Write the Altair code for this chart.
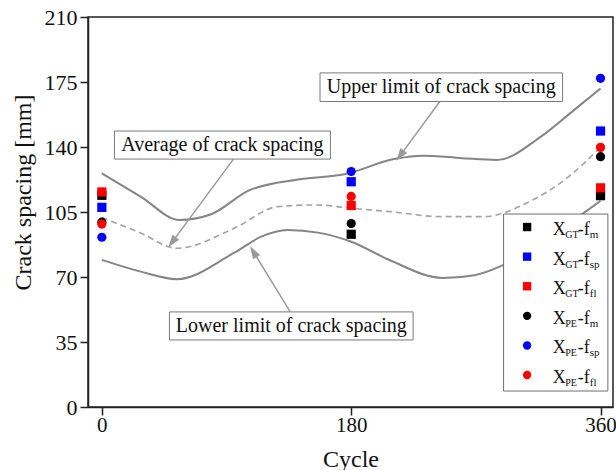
import math
import altair as alt
import pandas as pd

# ---------------- data ----------------
cycles = [0, 180, 360]
series_names = ["XGT-fm", "XGT-fsp", "XGT-fl", "XPE-fm", "XPE-fsp", "XPE-fl"]
gt_fm = [114.0, 93.0, 113.8]
gt_fsp = [107.5, 121.3, 148.6]
gt_fl = [115.8, 108.5, 118.0]
pe_fm = [99.5, 98.8, 134.8]
pe_fsp = [91.4, 126.8, 177.0]
pe_fl = [98.5, 113.4, 139.8]
series_values = [gt_fm, gt_fsp, gt_fl, pe_fm, pe_fsp, pe_fl]
series_colors = ["#000000", "#0000ff", "#ff0000", "#000000", "#0000ff", "#ff0000"]
series_shapes = ["square", "square", "square", "circle", "circle", "circle"]
legend_sub1 = ["GT", "GT", "GT", "PE", "PE", "PE"]
legend_sub2 = ["m", "sp", "fl", "m", "sp", "fl"]

upper_cycle = [0, 28, 56, 78, 107, 143, 175, 211, 232, 260, 285, 317, 341, 360]
upper_val = [125.8, 113.3, 100.7, 103.5, 116.9, 122.6, 125.3, 133.5, 135.3, 134.0, 133.0, 145.6, 160.0, 171.5]
average_cycle = [0, 28, 54, 96, 127, 155, 180, 208, 245, 276, 307, 337, 360]
average_val = [102.0, 93.7, 85.5, 96.4, 107.9, 108.8, 107.0, 105.2, 102.5, 102.5, 110.0, 124.0, 140.0]
lower_cycle = [0, 28, 54, 95, 115, 134, 156, 180, 208, 246, 269, 290, 320, 348, 360]
lower_val = [79.2, 72.9, 68.8, 82.8, 91.7, 95.3, 93.9, 89.0, 79.0, 69.5, 71.0, 76.5, 90.0, 104.5, 111.0]

x_ticks = [0, 180, 360]
y_ticks = [0, 35, 70, 105, 140, 175, 210]

# annotations (data coordinates)
ann_text = ["Upper limit of crack spacing", "Average of crack spacing", "Lower limit of crack spacing"]
ann_c = [245.0, 87.0, 136.8]
ann_v = [172.2, 141.0, 43.6]
ann_box_c = [157.5, 9.1, 48.8]
ann_box_c2 = [332.6, 165.0, 224.7]
ann_box_v = [164.5, 133.5, 36.1]
ann_box_v2 = [179.9, 148.6, 51.2]
arrow_start_c = [244.0, 95.0, 136.0]
arrow_start_v = [164.5, 133.5, 51.2]
arrow_tip_c = [212.6, 48.0, 107.0]
arrow_tip_v = [132.6, 86.0, 86.5]

# ---------------- layout ----------------
W, H = 525, 390
XD = [-10, 369]
YD = [0, 210]
FONT = "Liberation Serif"
kx = W / (XD[1] - XD[0])
ky = H / (YD[1] - YD[0])

x_scale = alt.Scale(domain=XD, nice=False, zero=False)
y_scale = alt.Scale(domain=YD, nice=False, zero=False)

x_axis = alt.Axis(values=x_ticks, title="Cycle", grid=False, tickSize=8, tickWidth=1.5,
                  domainWidth=1.5, domainColor="#222", tickColor="#222",
                  labelFont=FONT, labelFontSize=21, labelColor="#111", labelPadding=-1,
                  labelFlush=False, titleFont=FONT, titleFontSize=24, titleColor="#111",
                  titleFontWeight="normal", titleY=59, titleBaseline="alphabetic")
y_axis = alt.Axis(values=y_ticks, title="Crack spacing [mm]", grid=False, tickSize=8, tickWidth=1.5,
                  domainWidth=1.5, domainColor="#222", tickColor="#222",
                  labelFont=FONT, labelFontSize=22, labelColor="#111", labelPadding=3,
                  labelFlush=False, titleFont=FONT, titleFontSize=24, titleColor="#111",
                  titleFontWeight="normal", titleAngle=270, titleX=-65, titleY=175,
                  titleAlign="center", titleBaseline="middle")


def X(f="c"):
    return alt.X(f"{f}:Q", scale=x_scale, axis=x_axis)


def Y(f="v"):
    return alt.Y(f"{f}:Q", scale=y_scale, axis=y_axis)


color_enc = alt.Color("series:N", scale=alt.Scale(domain=series_names, range=series_colors), legend=None)
shape_enc = alt.Shape("series:N", scale=alt.Scale(domain=series_names, range=series_shapes), legend=None)

# ---------------- tables ----------------
pts = pd.DataFrame([
    {"c": c, "v": vals[i], "series": name, "k": j}
    for j, (name, vals) in enumerate(zip(series_names, series_values))
    for i, c in enumerate(cycles)
])

solid = pd.DataFrame(
    [{"c": c, "v": v, "curve": "upper"} for c, v in zip(upper_cycle, upper_val)] +
    [{"c": c, "v": v, "curve": "lower"} for c, v in zip(lower_cycle, lower_val)]
)
dashed = pd.DataFrame({"c": average_cycle, "v": average_val})

# arrows
R = 7.0
arrows = []
for sc, sv, tc, tv in zip(arrow_start_c, arrow_start_v, arrow_tip_c, arrow_tip_v):
    dxp = (tc - sc) * kx
    dyp = -(tv - sv) * ky
    L = math.hypot(dxp, dyp)
    ux, uy = dxp / L, dyp / L
    ang = math.degrees(math.atan2(dxp, -dyp)) % 360
    cc = tc - R * ux / kx
    cv = tv + R * uy / ky
    arrows.append({"c": sc, "v": sv, "c2": cc, "v2": cv, "hc": cc, "hv": cv, "ang": ang})
arrows = pd.DataFrame(arrows)

ann = pd.DataFrame({"c": ann_box_c, "c2": ann_box_c2, "v": ann_box_v, "v2": ann_box_v2,
                    "tc": ann_c, "tv": ann_v, "text": ann_text})

# legend (placed in data coordinates)
LEG_C, LEG_C2, LEG_V, LEG_V2 = 290.0, 365.3, 8.6, 103.9
LEG_SYM_C, LEG_LAB_C, LEG_TOP_V, LEG_STEP = 307.0, 325.5, 96.9, 15.94
leg = pd.DataFrame({
    "c": [LEG_SYM_C] * 6,
    "lc": [LEG_LAB_C] * 6,
    "v": [LEG_TOP_V - i * LEG_STEP for i in range(6)],
    "series": series_names,
    "sub1": legend_sub1,
    "sub2": legend_sub2,
})
leg_box = pd.DataFrame({"c": [LEG_C], "c2": [LEG_C2], "v": [LEG_V], "v2": [LEG_V2]})

# ---------------- layers ----------------
solid_lines = alt.Chart(solid).mark_line(color="#858585", strokeWidth=2, interpolate="monotone").encode(
    x=X(), y=Y(), detail="curve:N")
dashed_line = alt.Chart(dashed).mark_line(color="#a3a3a3", strokeWidth=1.6, strokeDash=[6, 4],
                                          interpolate="monotone").encode(x=X(), y=Y())

arrow_lines = alt.Chart(arrows).mark_rule(color="#9a9a9a", strokeWidth=1.5).encode(
    x=X(), y=Y(), x2="c2:Q", y2="v2:Q")
arrow_heads = alt.Chart(arrows).mark_point(shape="M0,-1L0.6,0.8L-0.6,0.8Z", size=196, filled=True,
                                           color="#9a9a9a", opacity=1).encode(
    x=X("hc"), y=Y("hv"), angle=alt.Angle("ang:Q", scale=None))

ann_boxes = alt.Chart(ann).mark_rect(fill="white", stroke="#7a7a7a", strokeWidth=1).encode(
    x=X(), x2="c2:Q", y=Y(), y2="v2:Q")
ann_texts = alt.Chart(ann).mark_text(font=FONT, fontSize=20, color="#111", align="center",
                                     baseline="middle").encode(x=X("tc"), y=Y("tv"), text="text:N")

points = alt.Chart(pts).mark_point(filled=True, size=85, opacity=1).encode(
    x=X(), y=Y(), color=color_enc, shape=shape_enc, order="k:Q")

legend_box = alt.Chart(leg_box).mark_rect(fill="white", stroke="#6e6e6e", strokeWidth=1).encode(
    x=X(), x2="c2:Q", y=Y(), y2="v2:Q")
legend_syms = alt.Chart(leg).mark_point(filled=True, size=70, opacity=1).encode(
    x=X(), y=Y(), color=color_enc, shape=shape_enc)
lt = alt.Chart(leg)
leg_x = lt.mark_text(text="X", font=FONT, fontSize=18, color="#111", align="left",
                     baseline="alphabetic", dy=8).encode(x=X("lc"), y=Y())
leg_s1 = lt.mark_text(font=FONT, fontSize=10, color="#111", align="left",
                      baseline="alphabetic", dx=12.5, dy=11).encode(x=X("lc"), y=Y(), text="sub1:N")
leg_f = lt.mark_text(text="-f", font=FONT, fontSize=18, color="#111", align="left",
                     baseline="alphabetic", dx=25, dy=8).encode(x=X("lc"), y=Y())
leg_s2 = lt.mark_text(font=FONT, fontSize=11, color="#111", align="left",
                      baseline="alphabetic", dx=37, dy=11).encode(x=X("lc"), y=Y(), text="sub2:N")

chart = alt.layer(
    solid_lines, dashed_line, arrow_lines, arrow_heads, ann_boxes, ann_texts, points,
    legend_box, legend_syms, leg_x, leg_s1, leg_f, leg_s2
).properties(
    width=W, height=H,
    autosize=alt.AutoSizeParams(type="none"),
    padding={"left": 88, "top": 17, "right": 3, "bottom": 63},
    background="white",
).configure_view(stroke="#222", strokeWidth=1.5)

chart.save("out.html", embed_options={"renderer": "svg", "actions": False})
